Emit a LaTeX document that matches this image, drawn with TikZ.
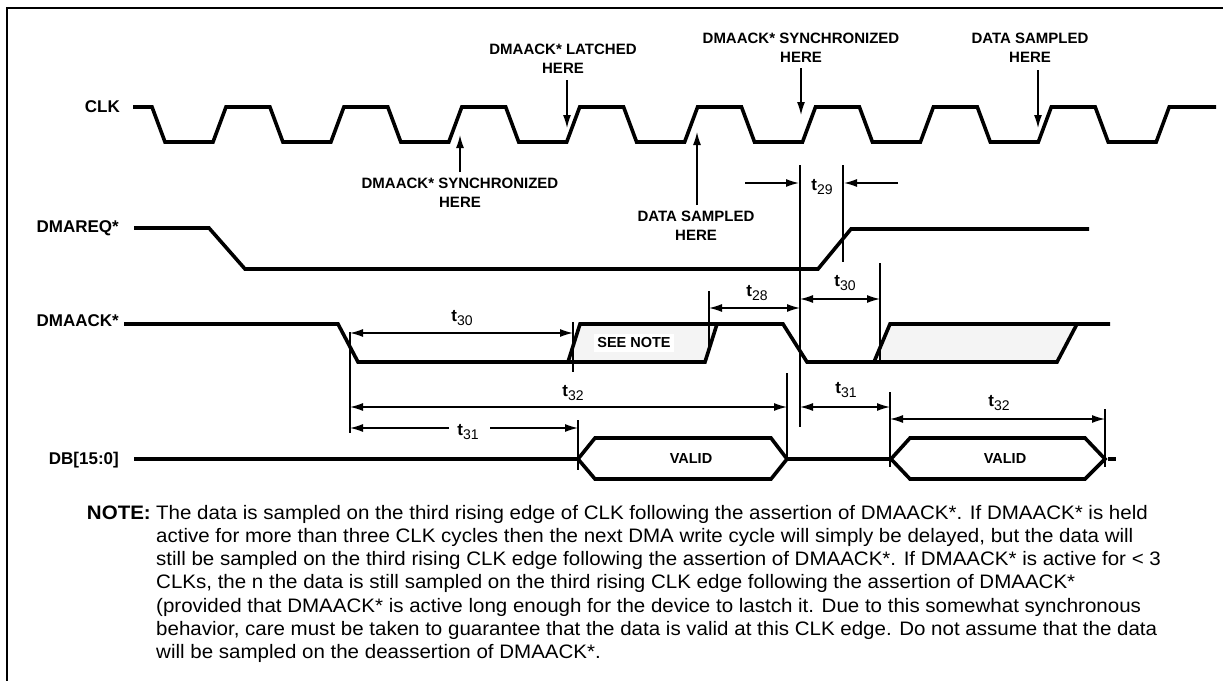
\documentclass[tikz,border=0pt]{standalone}
\usepackage{fontspec}
\setmainfont{Liberation Sans}
\usetikzlibrary{arrows.meta}
\newcommand\tsub[1]{\textbf{t}\raisebox{-0.45ex}{\fontsize{14}{14}\selectfont #1}}
\newcommand\notefont{\fontsize{19.5}{23}\selectfont}
\newlength\nw
\begin{document}
\settowidth\nw{\notefont behavior, care must be taken to guarantee that the data is valid at this CLK edge. Do not assume that the data}
\pgfmathsetmacro\nsx{1001/\nw}
\begin{tikzpicture}[x=1pt,y=-1pt,
  sig/.style={line width=3.6pt, line join=miter, line cap=butt},
  dim/.style={line width=1.3pt},
  dimarr/.style={line width=1.3pt, {Latex[length=13pt,width=8pt]}-{Latex[length=13pt,width=8pt]}},
  pt/.style={line width=1.3pt, -{Latex[length=13pt,width=8pt]}},
  lbl/.style={font=\fontsize{17}{20}\selectfont\bfseries, anchor=east, inner sep=0pt},
  ann/.style={font=\fontsize{15}{19.5}\selectfont\bfseries, align=center, inner sep=0pt},
  tl/.style={font=\fontsize{17}{17}\selectfont, inner sep=0pt},
  box/.style={font=\fontsize{14.5}{15}\selectfont\bfseries, inner sep=0pt},
  note/.style={anchor=base west, inner sep=0pt, font=\notefont}
]
\useasboundingbox (0,0) rectangle (1223,680);
\draw[line width=2pt] (7,700) -- (7,8) -- (1240,8);

% ---------- CLK ----------
\node[lbl] (clk) at (120,107) {CLK};
\draw[sig] (133,107) \foreach \k in {0,...,8} { -- ({152+\k*117.9},107) -- ({165+\k*117.9},142) -- ({213+\k*117.9},142) -- ({226+\k*117.9},107) } -- (1216,107);

% annotations above
\node[ann] (latch) at (563,59) {DMAACK* LATCHED\\HERE};
\coordinate (latchA) at (567,80); \coordinate (latchB) at (567,128);
\draw[pt] (latchA) -- (latchB);
\node[ann] (synTop) at (801,48) {DMAACK* SYNCHRONIZED\\HERE};
\coordinate (synTopA) at (801,68); \coordinate (synTopB) at (801,115);
\draw[pt] (synTopA) -- (synTopB);
\node[ann] (dsTop) at (1030,48) {DATA SAMPLED\\HERE};
\coordinate (dsTopA) at (1038,70); \coordinate (dsTopB) at (1038,128);
\draw[pt] (dsTopA) -- (dsTopB);
% annotations below
\node[ann] (synBot) at (460,193) {DMAACK* SYNCHRONIZED\\HERE};
\coordinate (synBotA) at (460,172); \coordinate (synBotB) at (460,135);
\draw[pt] (synBotA) -- (synBotB);
\node[ann] (dsBot) at (696,226) {DATA SAMPLED\\HERE};
\coordinate (dsBotA) at (697,205); \coordinate (dsBotB) at (697,132);
\draw[pt] (dsBotA) -- (dsBotB);

% ---------- t29 ----------
\coordinate (v800a) at (800,165); \coordinate (v800b) at (800,427);
\coordinate (v843a) at (843,165); \coordinate (v843b) at (843,262);
\draw[dim] (v800a) -- (v800b);
\draw[dim] (v843a) -- (v843b);
\coordinate (t29l) at (745,183); \coordinate (t29r) at (898,183);
\draw[pt] (t29l) -- (799,183);
\draw[pt] (t29r) -- (844,183);
\node[tl] (t29) at (822,187) {\tsub{29}};

% ---------- DMAREQ* ----------
\node[lbl] (req) at (119,228) {DMAREQ*};
\draw[sig] (134,228) -- (209,228) -- (245,269) -- (818,269) -- (851,229) -- (1089,229);

% ---------- DMAACK* ----------
\node[lbl] (ack) at (119,321) {DMAACK*};
\fill[gray!9] (568,362) -- (580,324) -- (717,324) -- (705,362) -- cycle;
\fill[gray!9] (874,362) -- (890,324) -- (1077,324) -- (1057,362) -- cycle;
\draw[sig] (124,324) -- (338,324) -- (358,362) -- (705,362) -- (717,324) -- (783,324) -- (807,362) -- (1057,362) -- (1077,324) -- (1110,324);
\draw[sig] (568,362) -- (580,324) -- (717,324);
\draw[sig] (874,362) -- (890,324) -- (1077,324);
\node[box, fill=white, inner xsep=3pt, inner ysep=4pt] (seenote) at (634,343) {SEE NOTE};

% dimension lines
\draw[dim] (350,332) -- (350,433);
\draw[dim] (573,322) -- (573,372);
\draw[dim] (787,373) -- (787,457);
\draw[dim] (578,420) -- (578,470);
\draw[dim] (709,291) -- (709,347);
\draw[dim] (880,263) -- (880,363);
\draw[dim] (890,392) -- (890,467);
\draw[dim] (1105,409) -- (1105,467);

\coordinate (a30l) at (350,333); \coordinate (a30r) at (573,333);
\draw[dimarr] (a30l) -- (a30r);
\node[tl] (t30a) at (462,318) {\tsub{30}};

\coordinate (a32l) at (350,407); \coordinate (a32r) at (787,407);
\draw[dimarr] (a32l) -- (a32r);
\node[tl] (t32a) at (573,393) {\tsub{32}};

\coordinate (a31l) at (350,428); \coordinate (a31r) at (578,428);
\node[tl] (t31a) at (468,432) {\tsub{31}};
\draw[pt] (449,428) -- (a31l);
\draw[pt] (490,428) -- (a31r);

\coordinate (a28l) at (709,308); \coordinate (a28r) at (800,308);
\draw[dimarr] (a28l) -- (a28r);
\node[tl] (t28) at (757,293) {\tsub{28}};

\coordinate (a30bl) at (800,299); \coordinate (a30br) at (880,299);
\draw[dimarr] (a30bl) -- (a30br);
\node[tl] (t30b) at (845,283) {\tsub{30}};

\coordinate (a31bl) at (800,407); \coordinate (a31br) at (890,407);
\draw[dimarr] (a31bl) -- (a31br);
\node[tl] (t31b) at (846,390) {\tsub{31}};

\coordinate (a32bl) at (890,419); \coordinate (a32br) at (1105,419);
\draw[dimarr] (a32bl) -- (a32br);
\node[tl] (t32b) at (999,403) {\tsub{32}};

% ---------- DB[15:0] ----------
\node[lbl] (db) at (119,460) {DB[15:0]};
\draw[sig] (134,459) -- (578,459);
\draw[sig] (578,459) -- (595,438) -- (771,438) -- (787,459) -- (771,479) -- (595,479) -- cycle;
\draw[sig] (787,459) -- (891,459);
\draw[sig] (891,459) -- (910,438) -- (1085,438) -- (1105,459) -- (1085,479) -- (910,479) -- cycle;
\draw[sig] (1108,459) -- (1116,459);
\node[box] (valid1) at (691,459) {VALID};
\node[box] (valid2) at (1005,459) {VALID};

% ---------- NOTE ----------
\node[anchor=base east, inner sep=0pt, font=\notefont\bfseries] (notehd) at (151,519) {\scalebox{\nsx}[1]{NOTE:}};
\node[note] (n1) at (156,519) {\scalebox{\nsx}[1]{The data is sampled on the third rising edge of CLK following the assertion of DMAACK*. If DMAACK* is held}};
\node[note] (n2) at (156,542.3) {\scalebox{\nsx}[1]{active for more than three CLK cycles then the next DMA write cycle will simply be delayed, but the data will}};
\node[note] (n3) at (156,565.6) {\scalebox{\nsx}[1]{still be sampled on the third rising CLK edge following the assertion of DMAACK*. If DMAACK* is active for < 3}};
\node[note] (n4) at (156,588.9) {\scalebox{\nsx}[1]{CLKs, the n the data is still sampled on the third rising CLK edge following the assertion of DMAACK*}};
\node[note] (n5) at (156,612.2) {\scalebox{\nsx}[1]{(provided that DMAACK* is active long enough for the device to lastch it. Due to this somewhat synchronous}};
\node[note] (n6) at (156,635.5) {\scalebox{\nsx}[1]{behavior, care must be taken to guarantee that the data is valid at this CLK edge. Do not assume that the data}};
\node[note] (n7) at (156,658.8) {\scalebox{\nsx}[1]{will be sampled on the deassertion of DMAACK*.}};
\end{tikzpicture}
\end{document}
